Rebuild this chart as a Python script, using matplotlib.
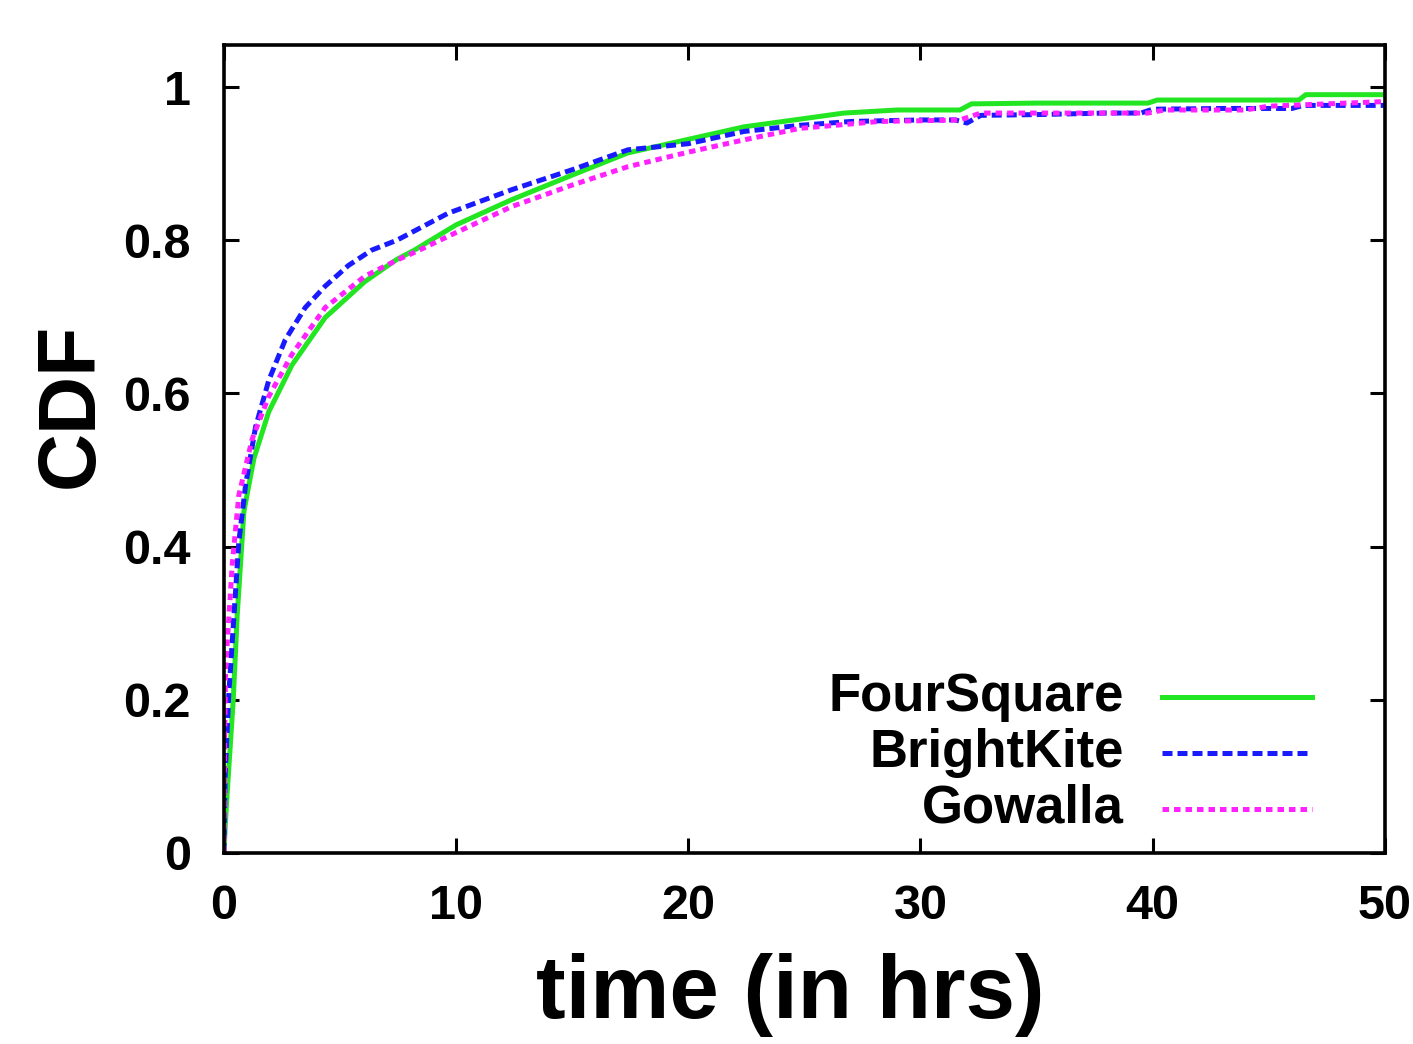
import matplotlib
matplotlib.use("Agg")
import matplotlib.pyplot as plt

plt.rcParams['font.family'] = ['Liberation Sans', 'DejaVu Sans']
plt.rcParams['font.weight'] = 'bold'

# Courbes CDF (temps en heures)
foursquare_x = [0, 0.1, 0.25, 0.4, 0.57, 0.86, 1.29, 1.93, 2.93, 4.36, 6.07, 7.45, 8.2, 10, 12.4,
                15, 17.4, 19.9, 22.4, 24.8, 26.7, 29, 31.7, 32.2, 35, 39.8, 40.2, 46.3, 46.6, 50]
foursquare_y = [0, 0.06, 0.13, 0.2, 0.31, 0.446, 0.515, 0.576, 0.637, 0.699, 0.746, 0.775, 0.787, 0.82, 0.853,
                0.885, 0.914, 0.931, 0.948, 0.958, 0.966, 0.970, 0.970, 0.978, 0.979, 0.979, 0.983, 0.983, 0.990, 0.990]

brightkite_x = [0, 0.05, 0.21, 0.43, 0.64, 0.93, 1.36, 1.93, 2.64, 3.5, 4.36, 5.36, 6.36, 7.45, 9.64, 12.4,
                15, 17.4, 20, 22.4, 24.8, 27, 30, 31.5, 32, 32.6, 35, 38, 39.5, 40, 43, 46, 46.5, 50]
brightkite_y = [0, 0.1, 0.208, 0.31, 0.406, 0.48, 0.556, 0.617, 0.67, 0.712, 0.74, 0.767, 0.787, 0.80, 0.835, 0.866,
                0.892, 0.918, 0.926, 0.942, 0.950, 0.955, 0.957, 0.957, 0.953, 0.963, 0.964, 0.966, 0.966, 0.971, 0.972, 0.972, 0.976, 0.976]

gowalla_x = [0, 0.03, 0.07, 0.36, 0.64, 1.21, 1.93, 2.93, 4.36, 6.07, 7.45, 8.2, 10, 12.4,
             15, 17.4, 20, 22.4, 24.8, 28.2, 31.7, 32.6, 35, 39.8, 40.5, 44, 45, 50]
gowalla_y = [0, 0.15, 0.24, 0.378, 0.467, 0.54, 0.596, 0.651, 0.712, 0.753, 0.774, 0.784, 0.81, 0.844,
             0.872, 0.896, 0.915, 0.931, 0.946, 0.955, 0.957, 0.966, 0.966, 0.966, 0.970, 0.970, 0.975, 0.981]

labels = ["FourSquare", "BrightKite", "Gowalla"]
colors = ["#22e622", "#1a1aff", "#ff22ff"]
styles = ["-", (0, (2, 1)), (0, (1.3, 1))]

fig = plt.figure(figsize=(14.13, 10.44), dpi=100)
ax = fig.add_axes([0.1585, 0.183, 0.8215, 0.774])

series = [(foursquare_x, foursquare_y), (brightkite_x, brightkite_y), (gowalla_x, gowalla_y)]
for (xs, ys), c, ls in zip(series, colors, styles):
    ax.plot(xs, ys, color=c, linestyle=ls, linewidth=3.6)

ax.set_xlim(0, 50)
ax.set_ylim(0, 1.055)
ax.set_xticks([0, 10, 20, 30, 40, 50])
ax.set_yticks([0, 0.2, 0.4, 0.6, 0.8, 1.0])
ax.set_yticklabels(["0", "0.2", "0.4", "0.6", "0.8", "1"])
ax.tick_params(direction="in", length=11, width=2.2, labelsize=35,
               top=True, right=True)
ax.tick_params(axis="x", pad=22)
ax.tick_params(axis="y", pad=24)
for s in ax.spines.values():
    s.set_linewidth(2.6)

# Légende façon gnuplot : texte aligné à droite, trait à droite
for i, (lab, c, ls) in enumerate(zip(labels, colors, styles)):
    yy = 0.193 - i * 0.069
    ax.text(0.775, yy, lab, transform=ax.transAxes, ha="right", va="center", fontsize=38)
    ax.plot([0.808, 0.937], [yy, yy], transform=ax.transAxes, color=c,
            linestyle=ls, linewidth=3.6)

fig.text(0.559, 0.047, "time (in hrs)", ha="center", va="center", fontsize=64)
fig.text(0.051, 0.612, "CDF", ha="center", va="center", rotation=90, fontsize=58)

plt.savefig("out.png", dpi=100)
